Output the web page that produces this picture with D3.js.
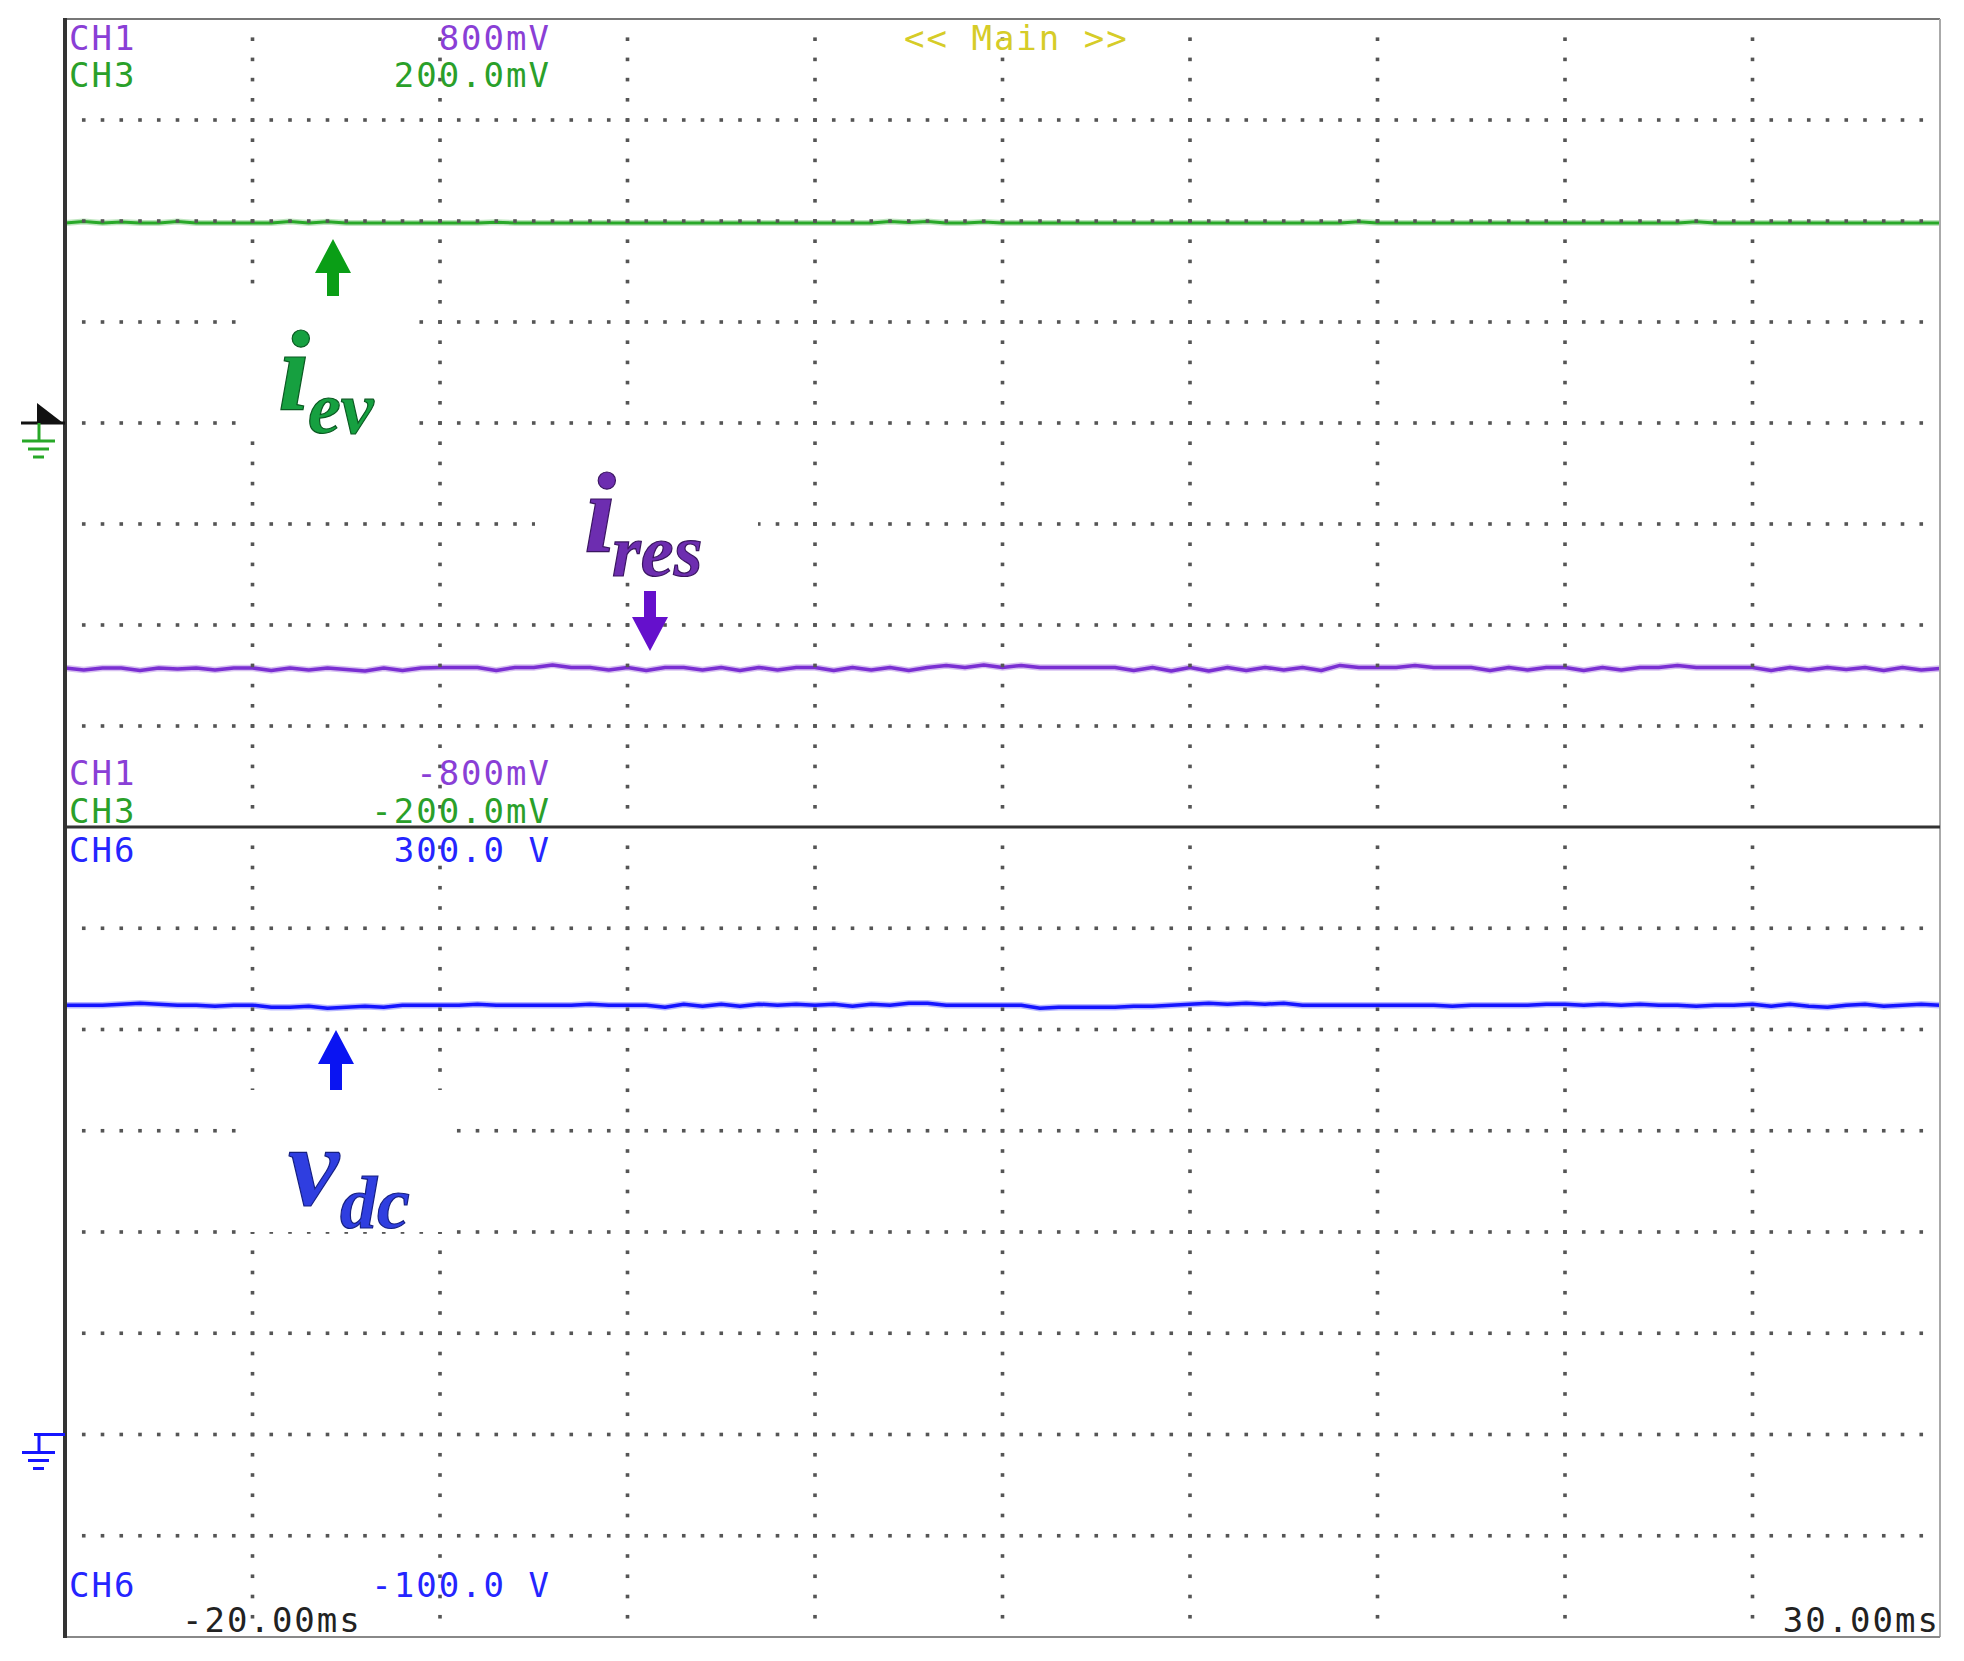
<!DOCTYPE html>
<html>
<head>
<meta charset="utf-8">
<script src="https://cdn.jsdelivr.net/npm/d3@7"></script>
<style>
  body { margin: 0; background: #fff; }
  .mono { font-family: "DejaVu Sans Mono", monospace; letter-spacing: 2px; }
  .math { font-family: "Liberation Serif", "Times New Roman", serif; font-style: italic; font-weight: bold; }
</style>
</head>
<body>
<div id="chart"></div>
<script>
// time axis, one sample every 0.5 ms from -20 ms to 30 ms
const timeStart = -20, timeEnd = 30, timeStep = 0.5;
const timeLabels = ["-20.00ms", "30.00ms"];

// CH3 (green), i_ev, mV
const ch3 = [
  99, 99.8, 99, 99.5, 99, 99, 99.8, 99, 99, 99,
  99, 99, 99.8, 99, 99.6, 99, 99, 99, 99, 99,
  99, 99, 99, 99.4, 99, 99, 99, 99, 99, 99,
  99, 99, 99, 99, 99, 99, 99, 99, 99, 99,
  99, 99, 99, 99, 99.8, 99.2, 99.8, 99, 99, 99.5,
  99, 99, 99, 99, 99, 99, 99, 99, 99, 99,
  99, 99, 99, 99, 99, 99, 99, 99, 99, 99.6,
  99, 99, 99, 99, 99, 99, 99, 99, 99, 99,
  99, 99, 99, 99, 99, 99, 99, 99.6, 99, 99,
  99, 99, 99, 99, 99, 99, 99, 99, 99, 99,
  99
];

// CH1 (purple), i_res, mV
const ch1 = [
  -485, -489, -485, -485, -490, -485, -487, -485, -489, -485,
  -485, -490, -485, -489, -485, -488, -491, -485, -490, -485,
  -484, -484, -484, -490, -484, -484, -479, -484, -484, -489,
  -484, -490, -484, -484, -489, -484, -490, -484, -489, -484,
  -484, -490, -484, -489, -484, -490, -484, -480, -484, -479,
  -484, -480, -484, -484, -484, -484, -484, -490, -484, -491,
  -484, -491, -484, -490, -484, -489, -484, -490, -480, -484,
  -484, -484, -480, -484, -484, -484, -490, -484, -489, -484,
  -484, -490, -484, -489, -484, -484, -480, -484, -484, -484,
  -484, -490, -484, -489, -484, -488, -484, -490, -484, -489,
  -486
];

// CH6 (blue), v_dc, V
const ch6 = [
  212, 212, 212, 212.5, 213, 212.5, 212, 212, 211.5, 212,
  212, 211, 211, 211.5, 210.5, 211, 211.5, 211, 212, 212,
  212, 212, 212.5, 212, 212, 212, 212, 212, 212.5, 212,
  212, 212, 211, 212.5, 211.5, 212.5, 211.5, 212.5, 212, 212.5,
  212, 212.5, 211.5, 212.5, 212, 213, 213, 212, 212, 212,
  212, 212, 210.5, 211, 211, 211, 211, 211.5, 211.5, 212,
  212.5, 213, 212.5, 213, 212.5, 213, 212, 212, 212, 212,
  212, 212, 212, 212, 211.5, 212, 212, 212, 212, 212.5,
  212.5, 212, 212.5, 212, 212.5, 212, 212, 211.5, 212, 212,
  212.5, 211.5, 212.5, 211.5, 211, 212, 212.5, 211.5, 212, 212.5,
  212
];

// channel range labels (top / bottom of screen)
const ch1Range = [-800, 800];
const ch3Range = [-200, 200];
const ch6Range = [-100, 300];
const ch1Labels = ["800mV", "-800mV"];
const ch3Labels = ["200.0mV", "-200.0mV"];
const ch6Labels = ["300.0 V", "-100.0 V"];

const times = ch1.map((d, i) => timeStart + i * timeStep);

const W = 1964, H = 1661;
const pLeft = 65, pRight = 1940, pTop = 19, pMid = 827, pBottom = 1637;

const col = {
  ch1: "#7a2fd2", ch3: "#28a828", ch6: "#1515ff",
  ch1Text: "#8a3fd6", ch3Text: "#2aa02a", ch6Text: "#2525ff",
  main: "#d6cc28", grid: "#555"
};

const svg = d3.select("#chart").append("svg")
  .attr("width", W)
  .attr("height", H);

const x = d3.scaleLinear().domain([timeStart, timeEnd]).range([pLeft, pRight]);
const y1 = d3.scaleLinear().domain(ch1Range).range([pMid, pTop]);
const y3 = d3.scaleLinear().domain(ch3Range).range([pMid, pTop]);
const y6 = d3.scaleLinear().domain(ch6Range).range([pBottom, pMid]);

svg.append("defs").append("clipPath").attr("id", "plot")
  .append("rect").attr("x", pLeft).attr("y", pTop)
  .attr("width", pRight - pLeft).attr("height", pBottom - pTop);

// traces
const traces = svg.append("g").attr("clip-path", "url(#plot)");

function drawTrace(values, yScale, color, width) {
  const line = d3.line()
    .x((d, i) => x(times[i]))
    .y(d => yScale(d));
  traces.append("path")
    .datum(values)
    .attr("fill", "none")
    .attr("stroke", color)
    .attr("stroke-opacity", 0.3)
    .attr("stroke-width", width + 3)
    .attr("d", line);
  traces.append("path")
    .datum(values)
    .attr("fill", "none")
    .attr("stroke", color)
    .attr("stroke-width", width)
    .attr("stroke-linejoin", "round")
    .attr("d", line);
}
drawTrace(ch3, y3, col.ch3, 3);
drawTrace(ch1, y1, col.ch1, 3.5);
drawTrace(ch6, y6, col.ch6, 3.5);

// dotted grid (drawn over the traces, like the scope does)
const grid = svg.append("g").attr("fill", col.grid);
const xDivs = d3.range(1, 10).map(k => x(timeStart + k * 5));
const panels = [[pTop, pMid], [pMid, pBottom]];
const dotX = (pRight - pLeft) / 100;
const ds = 3.6;

panels.forEach(([p0, p1]) => {
  const divH = (p1 - p0) / 8;
  // horizontal rows
  d3.range(1, 8).forEach(r => {
    const yy = p0 + r * divH;
    d3.range(1, 100).forEach(j => {
      grid.append("rect")
        .attr("x", pLeft + j * dotX - ds / 2).attr("y", yy - ds / 2)
        .attr("width", ds).attr("height", ds);
    });
  });
  // vertical columns
  xDivs.forEach(xx => {
    d3.range(1, 40).forEach(j => {
      grid.append("rect")
        .attr("x", xx - ds / 2).attr("y", p0 + j * divH / 5 - ds / 2)
        .attr("width", ds).attr("height", ds);
    });
  });
});

// white patches behind the pasted labels
const patches = [
  [240, 294, 176, 143],
  [535, 430, 223, 152],
  [240, 1090, 215, 142]
];
svg.append("g").selectAll("rect").data(patches).join("rect")
  .attr("x", d => d[0]).attr("y", d => d[1])
  .attr("width", d => d[2]).attr("height", d => d[3])
  .attr("fill", "#fff");

// frame
svg.append("line").attr("x1", pLeft).attr("x2", pRight).attr("y1", pTop).attr("y2", pTop)
  .attr("stroke", "#777").attr("stroke-width", 2);
svg.append("line").attr("x1", pRight).attr("x2", pRight).attr("y1", pTop).attr("y2", pBottom)
  .attr("stroke", "#aaa").attr("stroke-width", 2);
svg.append("line").attr("x1", pLeft).attr("x2", pRight).attr("y1", pBottom).attr("y2", pBottom)
  .attr("stroke", "#888").attr("stroke-width", 2);
svg.append("line").attr("x1", pLeft).attr("x2", pRight).attr("y1", pMid).attr("y2", pMid)
  .attr("stroke", "#333").attr("stroke-width", 3);
svg.append("line").attr("x1", pLeft).attr("x2", pLeft).attr("y1", pTop - 1).attr("y2", pBottom + 1)
  .attr("stroke", "#333").attr("stroke-width", 4);

// ground markers
const gTop = y3(0), gBot = y6(0);
svg.append("line").attr("x1", 21).attr("x2", pLeft).attr("y1", gTop).attr("y2", gTop)
  .attr("stroke", "#111").attr("stroke-width", 3);
svg.append("path")
  .attr("d", `M37,${gTop - 20}L37,${gTop}L63,${gTop}Z`)
  .attr("fill", "#111");
function groundSymbol(gy, color, withTop) {
  const g = svg.append("g").attr("stroke", color).attr("stroke-width", 3);
  if (withTop) g.append("line").attr("x1", 34).attr("x2", pLeft).attr("y1", gy).attr("y2", gy);
  g.append("line").attr("x1", 39).attr("x2", 39).attr("y1", gy).attr("y2", gy + 18);
  g.append("line").attr("x1", 22).attr("x2", 55).attr("y1", gy + 18).attr("y2", gy + 18);
  g.append("line").attr("x1", 28).attr("x2", 49).attr("y1", gy + 26).attr("y2", gy + 26);
  g.append("line").attr("x1", 33).attr("x2", 44).attr("y1", gy + 34).attr("y2", gy + 34);
}
groundSymbol(gTop, col.ch3, false);
groundSymbol(gBot, col.ch6, true);

// channel readouts
const fs = 34;
function readout(name, value, color, baseline) {
  svg.append("text").attr("class", "mono").attr("x", 69).attr("y", baseline)
    .attr("fill", color).style("font-size", fs + "px").text(name);
  svg.append("text").attr("class", "mono").attr("x", 551).attr("y", baseline)
    .attr("text-anchor", "end")
    .attr("fill", color).style("font-size", fs + "px").text(value);
}
readout("CH1", ch1Labels[0], col.ch1Text, 50);
readout("CH3", ch3Labels[0], col.ch3Text, 87);
readout("CH1", ch1Labels[1], col.ch1Text, 785);
readout("CH3", ch3Labels[1], col.ch3Text, 823);
readout("CH6", ch6Labels[0], col.ch6Text, 862);
readout("CH6", ch6Labels[1], col.ch6Text, 1597);

svg.append("text").attr("class", "mono").attr("x", 904).attr("y", 50)
  .attr("fill", col.main).style("font-size", fs + "px").text("<< Main >>");

svg.append("text").attr("class", "mono").attr("x", 182).attr("y", 1632)
  .attr("fill", "#222").style("font-size", fs + "px").text(timeLabels[0]);
svg.append("text").attr("class", "mono").attr("x", 1940).attr("y", 1632).attr("text-anchor", "end")
  .attr("fill", "#222").style("font-size", fs + "px").text(timeLabels[1]);

// arrows
function arrow(ax, tail, tip, color) {
  const dir = tip < tail ? -1 : 1;
  const headLen = 34, headW = 18, shaftW = 6;
  const base = tip - dir * headLen;
  svg.append("path")
    .attr("d", `M${ax - shaftW},${tail}L${ax - shaftW},${base}L${ax - headW},${base}` +
      `L${ax},${tip}L${ax + headW},${base}L${ax + shaftW},${base}L${ax + shaftW},${tail}Z`)
    .attr("fill", color);
}
arrow(333, 296, 239, "#0a9e16");
arrow(650, 591, 651, "#6510cc");
arrow(336, 1090, 1030, "#0a14f2");

// math labels
function mathLabel(main, sub, mx, my, sx, sy, color, edge) {
  const t = svg.append("g").attr("fill", color).attr("stroke", edge).attr("stroke-width", 1.2);
  t.append("text").attr("class", "math").attr("x", mx).attr("y", my)
    .style("font-size", "115px").text(main);
  t.append("text").attr("class", "math").attr("x", sx).attr("y", sy)
    .style("font-size", "74px").text(sub);
}
mathLabel("i", "ev", 278, 410, 308, 433, "#16a040", "#0b5a22");
mathLabel("i", "res", 584, 552, 612, 576, "#6d2db0", "#3a1560");
mathLabel("v", "dc", 288, 1205, 340, 1228, "#2f3ee0", "#151f80");
</script>
</body>
</html>
